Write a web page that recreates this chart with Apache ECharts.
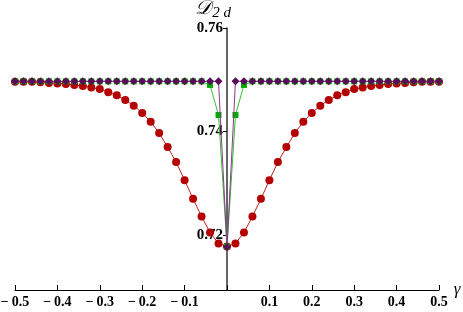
<!DOCTYPE html>
<html>
<head>
<meta charset="utf-8">
<script src="https://cdn.jsdelivr.net/npm/echarts@6/dist/echarts.min.js"></script>
<style>html,body{margin:0;padding:0;background:#fff}#c{width:463px;height:312px}</style>
</head>
<body>
<div id="c"></div>
<script>
var gammaValues = [-0.50,-0.48,-0.46,-0.44,-0.42,-0.40,-0.38,-0.36,-0.34,-0.32,-0.30,-0.28,-0.26,-0.24,-0.22,-0.20,-0.18,-0.16,-0.14,-0.12,-0.10,-0.08,-0.06,-0.04,-0.02,0.00,
  0.02,0.04,0.06,0.08,0.10,0.12,0.14,0.16,0.18,0.20,0.22,0.24,0.26,0.28,0.30,0.32,0.34,0.36,0.38,0.40,0.42,0.44,0.46,0.48,0.50];
var redValues = [0.7496,0.7496,0.7496,0.7495,0.7494,0.7493,0.7492,0.7490,0.7488,0.7485,0.7482,0.7476,0.7470,0.7461,0.7450,0.7436,0.7419,0.7397,0.7370,0.7341,0.7306,0.7270,0.7236,0.7205,0.7184,0.7178,
  0.7184,0.7205,0.7236,0.7270,0.7306,0.7341,0.7370,0.7397,0.7419,0.7436,0.7450,0.7461,0.7470,0.7476,0.7482,0.7485,0.7488,0.7490,0.7492,0.7493,0.7494,0.7495,0.7496,0.7496,0.7496];
var greenValues = [0.7497,0.7497,0.7497,0.7497,0.7497,0.7497,0.7497,0.7497,0.7497,0.7497,0.7497,0.7497,0.7497,0.7497,0.7497,0.7497,0.7497,0.7497,0.7497,0.7497,0.7497,0.7497,0.7497,0.7490,0.7432,0.7178,
  0.7432,0.7490,0.7497,0.7497,0.7497,0.7497,0.7497,0.7497,0.7497,0.7497,0.7497,0.7497,0.7497,0.7497,0.7497,0.7497,0.7497,0.7497,0.7497,0.7497,0.7497,0.7497,0.7497,0.7497,0.7497];
var purpleValues = [0.7497,0.7497,0.7497,0.7497,0.7497,0.7497,0.7497,0.7497,0.7497,0.7497,0.7497,0.7497,0.7497,0.7497,0.7497,0.7497,0.7497,0.7497,0.7497,0.7497,0.7497,0.7497,0.7497,0.7497,0.7497,0.7177,
  0.7497,0.7497,0.7497,0.7497,0.7497,0.7497,0.7497,0.7497,0.7497,0.7497,0.7497,0.7497,0.7497,0.7497,0.7497,0.7497,0.7497,0.7497,0.7497,0.7497,0.7497,0.7497,0.7497,0.7497,0.7497];
var xTickLabels = ['\u2212\u20090.5','\u2212\u20090.4','\u2212\u20090.3','\u2212\u20090.2','\u2212\u20090.1','','0.1','0.2','0.3','0.4','0.5'];
var yTickValues = [0.72, 0.74, 0.76];
var yTickLabels = ['0.72', '0.74', '0.76'];

function pairs(ys){ return gammaValues.map(function(x,i){ return [x, ys[i]]; }); }

var chart = echarts.init(document.getElementById('c'), null, {renderer:'canvas'});
chart.setOption({
  animation: false,
  backgroundColor: '#fff',
  grid: {left: 15, right: 24, top: 28, bottom: 22, containLabel: false, outerBoundsMode: 'none'},
  xAxis: {
    type: 'value', min: -0.5, max: 0.5, interval: 0.1,
    name: 'γ', nameLocation: 'end', nameGap: 4,
    nameTextStyle: {fontFamily: 'Liberation Serif', fontStyle: 'italic', fontSize: 17, color: '#000', padding: [0,0,14,0]},
    axisLine: {onZero: false, lineStyle: {color: '#000', width: 1}},
    axisTick: {inside: true, length: 5, lineStyle: {color: '#000'}},
    axisLabel: {
      margin: 5, fontFamily: 'Liberation Serif', fontWeight: 'bold', fontSize: 14, color: '#000',
      formatter: function(v){ var i = Math.round((v + 0.5) * 10); return xTickLabels[i]; }
    },
    splitLine: {show: false}
  },
  yAxis: {
    type: 'value', min: 0.7094, max: 0.76, position: 'left', offset: -212,
    name: '{d|𝒟}{s|2 d}', nameLocation: 'end', nameGap: 5,
    nameTextStyle: {
      padding: [0, 28, 0, 0],
      rich: {
        d: {fontFamily: 'DejaVu Serif', fontStyle: 'italic', fontSize: 20, color: '#000'},
        s: {fontFamily: 'Liberation Serif', fontStyle: 'italic', fontSize: 15, color: '#000', padding: [8, 0, 0, 1]}
      }
    },
    axisLine: {onZero: false, lineStyle: {color: '#333', width: 1.5}},
    axisTick: {show: true, length: 4, customValues: yTickValues, lineStyle: {color: '#000'}},
    axisLabel: {
      margin: 4, fontFamily: 'Liberation Serif', fontWeight: 'bold', fontSize: 15, color: '#000',
      customValues: yTickValues,
      formatter: function(v){ var i = yTickValues.findIndex(function(t){ return Math.abs(t - v) < 1e-6; }); return i >= 0 ? yTickLabels[i] : ''; }
    },
    splitLine: {show: false}
  },
  series: [
    {type: 'line', data: pairs(redValues), symbol: 'circle', symbolSize: 8,
     itemStyle: {color: '#b40000'}, lineStyle: {color: '#c02020', width: 1}, z: 2},
    {type: 'line', data: pairs(greenValues), symbol: 'rect', symbolSize: 6,
     itemStyle: {color: '#00aa00'}, lineStyle: {color: '#30c030', width: 1}, z: 3},
    {type: 'line', data: pairs(purpleValues), symbol: 'diamond', symbolSize: 8,
     itemStyle: {color: '#5a0a5a'}, lineStyle: {color: '#8a3a8a', width: 1}, z: 4}
  ]
});
</script>
</body>
</html>
